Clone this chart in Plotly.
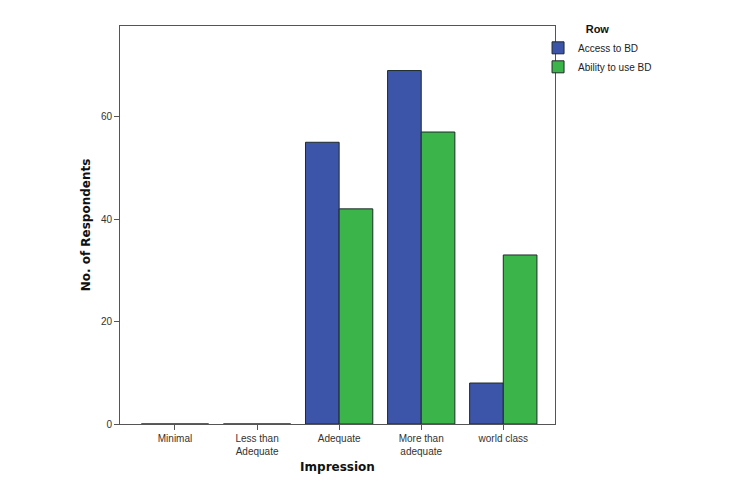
import plotly.graph_objects as go

categories = ["Minimal", "Less than<br>Adequate", "Adequate", "More than<br>adequate", "world class"]
access_to_bd = [0, 0, 55, 69, 8]
ability_to_use_bd = [0, 0, 42, 57, 33]
series_names = ["Access to BD", "Ability to use BD"]
y_ticks = [0, 20, 40, 60]

blue = "#3d55a8"
green = "#3bb54a"
outline = "#1e2a2a"

fig = go.Figure()
fig.add_trace(go.Bar(x=categories, y=access_to_bd, name=series_names[0],
                     marker=dict(color=blue, line=dict(color=outline, width=1))))
fig.add_trace(go.Bar(x=categories, y=ability_to_use_bd, name=series_names[1],
                     marker=dict(color=green, line=dict(color=outline, width=1))))

fig.update_layout(
    width=731, height=500,
    margin=dict(l=112, r=184, t=17, b=84),
    paper_bgcolor="white", plot_bgcolor="white",
    barmode="group", bargap=0.18, bargroupgap=0,
    font=dict(family="Liberation Sans, Arial, sans-serif", size=10, color="#333333"),
    showlegend=True,
    legend=dict(
        x=0.961, y=1.015, xanchor="left", yanchor="top",
        bgcolor="rgba(0,0,0,0)",
        title=dict(text="<b>Row</b>", side="top center",
                   font=dict(family="Liberation Sans, Arial, sans-serif", size=11, color="#111111")),
        font=dict(family="Liberation Sans, Arial, sans-serif", size=10, color="#222222"),
        itemwidth=30, tracegroupgap=0,
    ),
    xaxis=dict(
        range=[-0.67, 4.63],
        showline=True, linecolor="#555555", linewidth=1, mirror=True,
        ticks="outside", ticklen=5, tickcolor="#555555",
        showgrid=False, zeroline=False,
        tickfont=dict(family="Liberation Sans, Arial, sans-serif", size=10, color="#333333"),
        title=dict(text="<b>Impression</b>", standoff=6,
                   font=dict(family="DejaVu Sans, Verdana, sans-serif", size=12, color="#111111")),
    ),
    yaxis=dict(
        range=[0, 77.7],
        tickvals=y_ticks,
        showline=True, linecolor="#555555", linewidth=1, mirror=True,
        ticks="outside", ticklen=5, tickcolor="#555555",
        showgrid=False, zeroline=False,
        tickfont=dict(family="Liberation Sans, Arial, sans-serif", size=10, color="#333333"),
        title=dict(text="<b>No. of Respondents</b>", standoff=7,
                   font=dict(family="DejaVu Sans, Verdana, sans-serif", size=12, color="#111111")),
    ),
)

fig.write_html("out.html")
